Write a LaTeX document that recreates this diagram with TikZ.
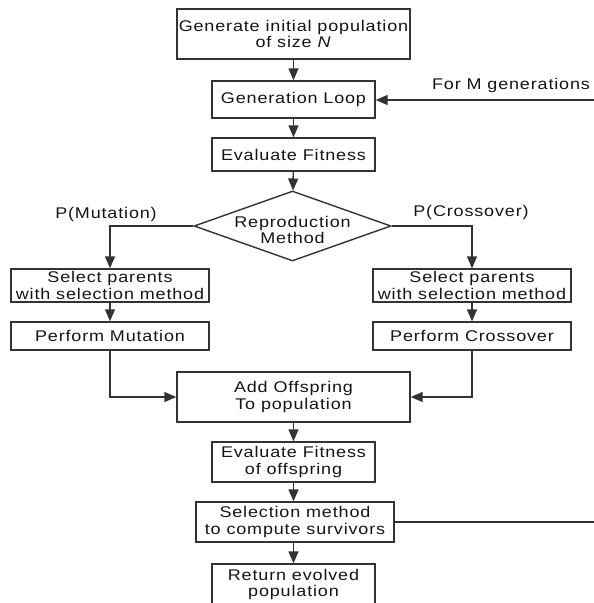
\documentclass[tikz,border=0pt]{standalone}
\usepackage{fontspec}
\setmainfont{Liberation Sans}[FakeStretch=1.16,LetterSpace=5.5]
\usetikzlibrary{shapes.geometric,arrows.meta}
\definecolor{linec}{HTML}{333333}
\definecolor{txtc}{HTML}{151515}
\begin{document}
\begin{tikzpicture}[x=1pt,y=-1pt,
  font=\fontsize{15.5}{16.5}\selectfont, text=txtc,
  box/.style={draw=linec, line width=1.4pt, rectangle, inner sep=0pt, align=center},
  dia/.style={draw=linec, line width=1.4pt, shape=diamond, aspect=2.8, inner sep=0pt},
  arr/.style={draw=linec, line width=1.4pt, -{Triangle[length=12pt,width=10pt]}},
  ln/.style={draw=linec, line width=1.4pt},
  lbl/.style={inner sep=0pt}]
\useasboundingbox[fill=white] (0,0) rectangle (594,603);

\node[box, minimum width=233pt, minimum height=50pt] (gen) at (293.5,34) {Generate initial population\\of size \textit{N}};
\node[box, minimum width=163pt, minimum height=37pt] (gl) at (293.5,99.5) {Generation Loop};
\node[box, minimum width=163pt, minimum height=33pt] (ef) at (293.5,154.5) {Evaluate Fitness};
\node[dia, minimum width=197pt, minimum height=70pt,
  label={[lbl, align=center, yshift=-4pt]center:Reproduction\\Method}] (rm) at (292.5,226) {};
\node[box, minimum width=198pt, minimum height=33pt] (sl) at (110,285.5) {Select parents\\with selection method};
\node[box, minimum width=198pt, minimum height=28pt] (pm) at (110,336) {Perform Mutation};
\node[box, minimum width=198pt, minimum height=33pt] (sr) at (472,285.5) {Select parents\\with selection method};
\node[box, minimum width=198pt, minimum height=28pt] (pc) at (472,336) {Perform Crossover};
\node[box, minimum width=233pt, minimum height=50pt] (ao) at (293.5,397) {Add Offspring\\To population};
\node[box, minimum width=163pt, minimum height=40pt] (eo) at (293.5,462) {Evaluate Fitness\\of offspring};
\node[box, minimum width=198pt, minimum height=40pt] (sm) at (295,522) {Selection method\\to compute survivors};
\node[box, minimum width=163pt, minimum height=41pt] (re) at (293.5,584.5) {Return evolved\\population};

\node[lbl] (lm) at (106,214) {P(Mutation)};
\node[lbl] (lc) at (471,212) {P(Crossover)};
\node[lbl] (lg) at (511,85) {For M generations};

\coordinate (ein) at (594,100);
\coordinate (eout) at (594,522);

\draw[arr] (gen) -- (gl);
\draw[arr] (gl) -- (ef);
\draw[arr] (ef) -- (rm);
\draw[arr] (rm.west) -| (sl.north);
\draw[arr] (rm.east) -| (sr.north);
\draw[arr] (sl) -- (pm);
\draw[arr] (sr) -- (pc);
\draw[arr] (pm.south) |- (ao.west);
\draw[arr] (pc.south) |- (ao.east);
\draw[arr] (ao) -- (eo);
\draw[arr] (eo.south) -- (eo.south |- sm.north);
\draw[arr] (sm.south -| eo.south) -- (re.north);
\draw[arr] (ein) -- (gl.east |- ein);
\draw[ln] (sm.east) -- (eout);
\end{tikzpicture}
\end{document}
